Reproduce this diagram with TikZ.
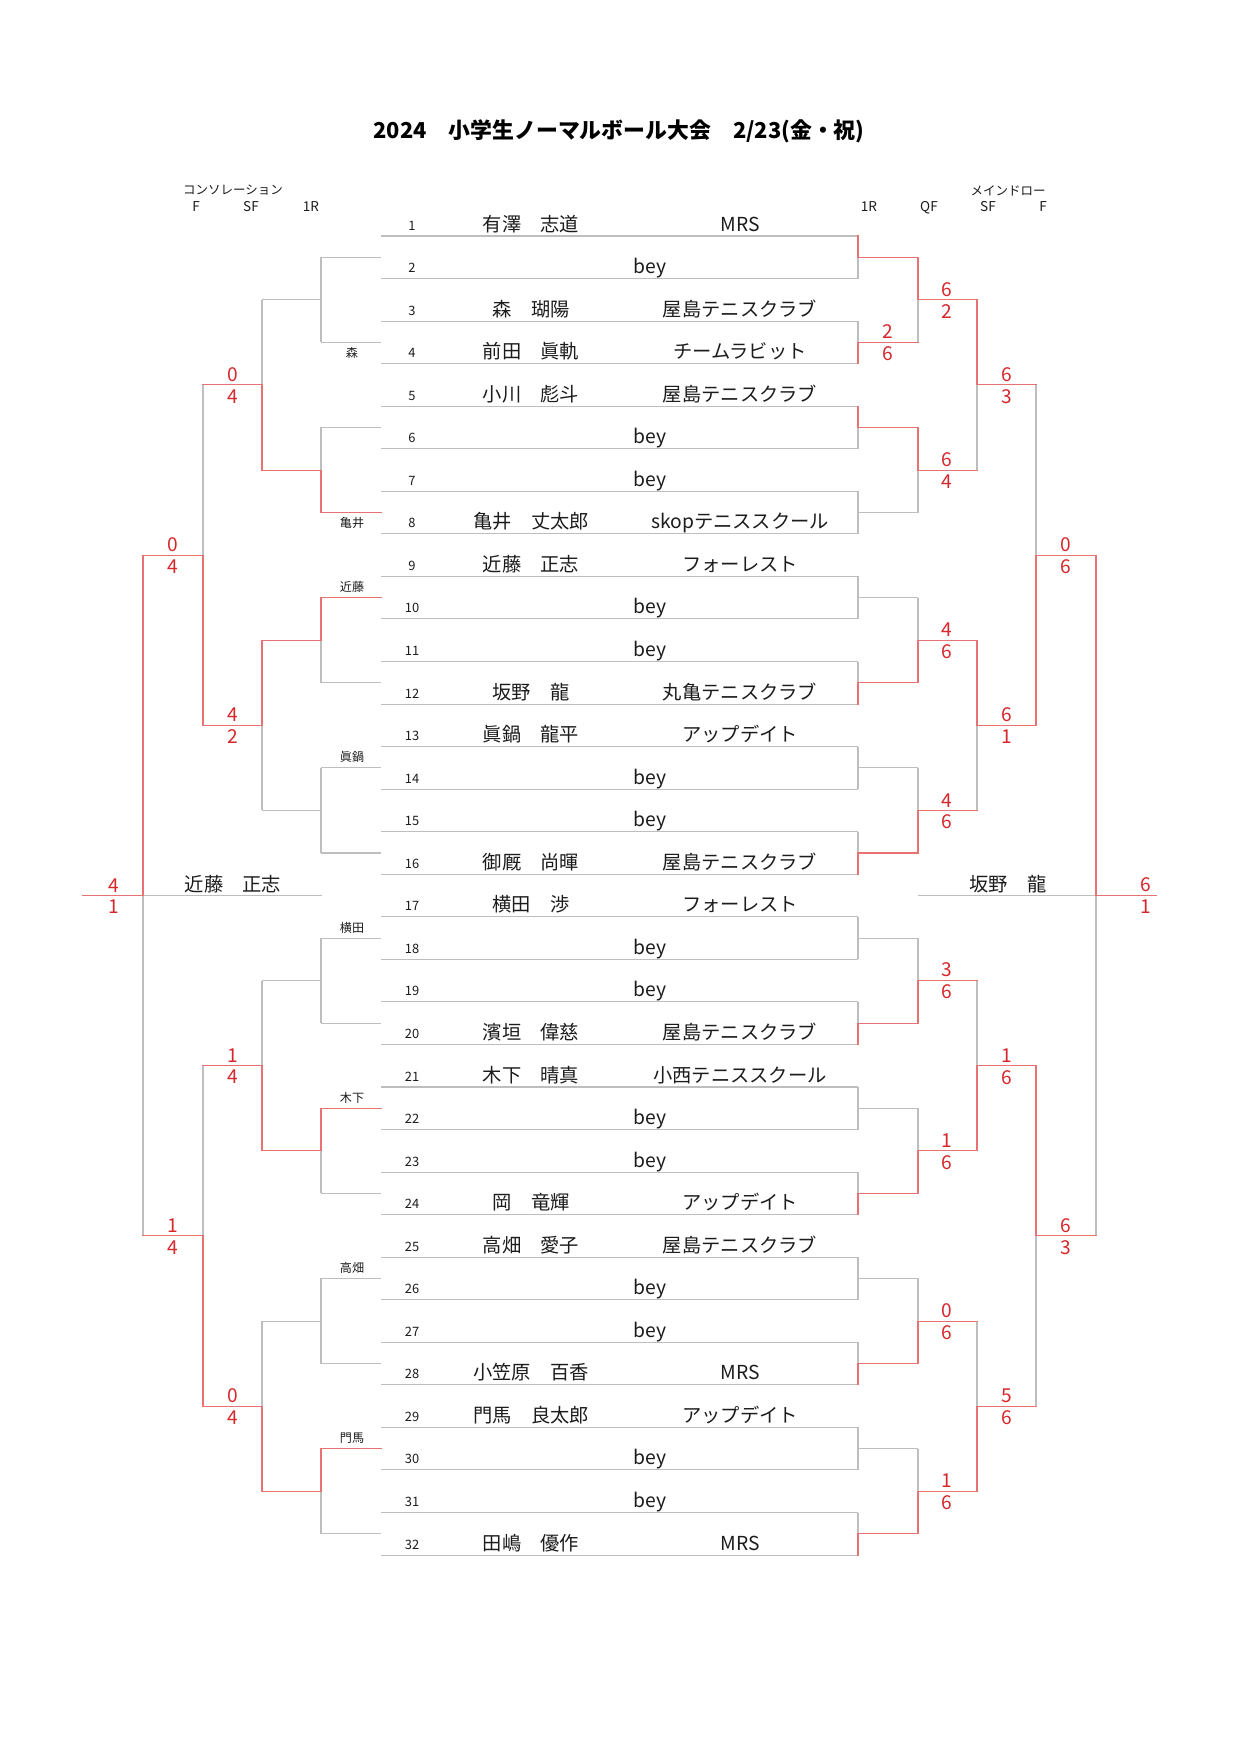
\documentclass[tikz,border=0pt]{standalone}
\usepackage{fontspec}
\setmainfont{Noto Sans CJK JP}
\definecolor{lg}{RGB}{190,190,190}
\definecolor{lr}{RGB}{232,114,114}
\definecolor{sr}{RGB}{214,40,44}
\definecolor{tx}{RGB}{28,28,28}
\newcommand\fsz[1]{\fontsize{#1}{#1}\selectfont}
\pgfmathdeclarefunction{yL}{1}{\pgfmathparse{236+(#1-1)*42.55}}
\pgfmathdeclarefunction{yA}{1}{\pgfmathparse{236+(2*#1-1.5)*42.55}}
\pgfmathdeclarefunction{yB}{1}{\pgfmathparse{236+(4*#1-2.5)*42.55}}
\pgfmathdeclarefunction{yC}{1}{\pgfmathparse{236+(8*#1-4.5)*42.55}}
\pgfmathdeclarefunction{yD}{1}{\pgfmathparse{236+(16*#1-8.5)*42.55}}
\newcommand\vseg[4]{\draw[#1] (#2,{#3}) -- (#2,{#4});}
\newcommand\hseg[4]{\draw[#1] (#2,{#4}) -- (#3,{#4});}
\begin{document}
\begin{tikzpicture}[x=0.48pt,y=-0.48pt,
  gl/.style={draw=lg,line width=0.5pt},
  rl/.style={draw=lr,line width=0.5pt,line cap=rect},
  num/.style={anchor=base,font=\fsz{6.2},text=tx,inner sep=0pt},
  nm/.style={anchor=base,font=\fsz{9.25},text=tx,inner sep=0pt},
  sct/.style={anchor=south,font=\fsz{9.2},text=sr,inner sep=0pt},
  scb/.style={anchor=north,font=\fsz{9.2},text=sr,inner sep=0pt},
  lbl/.style={font=\fsz{5.8},text=tx,inner sep=0pt},
  hdr/.style={anchor=base,font=\fsz{6.5},text=tx,inner sep=0pt},
  hdrj/.style={font=\fsz{6},text=tx,inner sep=0pt}]
\useasboundingbox (0,0) rectangle (1241,1755);
\fill[white] (0,0) rectangle (1241,1755);
\pgfmathsetmacro\yE{236+15.5*42.55}
% ---------------- title and headers
\node[anchor=base,font=\fsz{10.5}\bfseries,text=black,inner sep=0pt] (title) at (619,138) {2024　小学生ノーマルボール大会　2/23(金・祝)};
\node[hdrj] (hcons) at (233,190.5) {コンソレーション};
\node[hdr] (hlF) at (196,211) {F};
\node[hdr] (hlSF) at (251,211) {SF};
\node[hdr] (hl1R) at (311,211) {1R};
\node[hdrj] (hmain) at (1008,190.5) {メインドロー};
\node[hdr] (hr1R) at (869,211.5) {1R};
\node[hdr] (hrQF) at (929,211.5) {QF};
\node[hdr] (hrSF) at (988,211.5) {SF};
\node[hdr] (hrF) at (1043,211.5) {F};
% ---------------- gray base lines
\foreach \k in {1,...,32}{\hseg{gl}{381}{858}{yL(\k)}}
\foreach \m in {1,...,16}{
  \vseg{gl}{858}{yL(2*\m-1)}{yL(2*\m)}
  \hseg{gl}{858}{918}{yA(\m)}
  \hseg{gl}{321}{381}{yA(\m)}}
\foreach \j in {1,...,8}{
  \vseg{gl}{918}{yA(2*\j-1)}{yA(2*\j)}
  \hseg{gl}{918}{977}{yB(\j)}
  \vseg{gl}{321}{yA(2*\j-1)}{yA(2*\j)}
  \hseg{gl}{262}{321}{yB(\j)}}
\foreach \i in {1,...,4}{
  \vseg{gl}{977}{yB(2*\i-1)}{yB(2*\i)}
  \hseg{gl}{977}{1036}{yC(\i)}
  \vseg{gl}{262}{yB(2*\i-1)}{yB(2*\i)}
  \hseg{gl}{203}{262}{yC(\i)}}
\foreach \h in {1,2}{
  \vseg{gl}{1036}{yC(2*\h-1)}{yC(2*\h)}
  \hseg{gl}{1036}{1096}{yD(\h)}
  \vseg{gl}{203}{yC(2*\h-1)}{yC(2*\h)}
  \hseg{gl}{143}{203}{yD(\h)}}
\vseg{gl}{1096}{yD(1)}{yD(2)}
\vseg{gl}{143}{yD(1)}{yD(2)}
\hseg{gl}{918}{1156}{\yE}
\hseg{gl}{83}{322}{\yE}
% ---------------- red winner paths, main draw
\foreach \m in {1,3}{\vseg{rl}{858}{yL(2*\m-1)}{yA(\m)}}
\foreach \m in {2,6,8,10,12,14,16}{\vseg{rl}{858}{yA(\m)}{yL(2*\m)}}
\foreach \m in {1,2,3,6,8,10,12,14,16}{\hseg{rl}{858}{918}{yA(\m)}}
\foreach \j in {1,2}{\vseg{rl}{918}{yA(2*\j-1)}{yB(\j)}}
\foreach \j in {3,...,8}{\vseg{rl}{918}{yB(\j)}{yA(2*\j)}}
\foreach \j in {1,...,8}{\hseg{rl}{918}{977}{yB(\j)}}
\foreach \i in {1,2}{\vseg{rl}{977}{yB(2*\i-1)}{yC(\i)}}
\foreach \i in {3,4}{\vseg{rl}{977}{yC(\i)}{yB(2*\i)}}
\foreach \i in {1,...,4}{\hseg{rl}{977}{1036}{yC(\i)}}
\vseg{rl}{1036}{yD(1)}{yC(2)}
\vseg{rl}{1036}{yC(3)}{yD(2)}
\foreach \h in {1,2}{\hseg{rl}{1036}{1096}{yD(\h)}}
\vseg{rl}{1096}{yD(1)}{\yE}
\hseg{rl}{1096}{1156}{\yE}
% ---------------- red winner paths, consolation
\foreach \m in {4,5,11,15}{\hseg{rl}{321}{381}{yA(\m)}}
\vseg{rl}{321}{yB(2)}{yA(4)}
\foreach \i in {3,6,8}{\vseg{rl}{321}{yA(2*\i-1)}{yB(\i)}}
\foreach \i in {2,3,6,8}{\hseg{rl}{262}{321}{yB(\i)}}
\vseg{rl}{262}{yB(3)}{yC(2)}
\foreach \k in {1,3,4}{\vseg{rl}{262}{yC(\k)}{yB(2*\k)}}
\foreach \k in {1,...,4}{\hseg{rl}{203}{262}{yC(\k)}}
\foreach \h in {1,2}{\vseg{rl}{203}{yD(\h)}{yC(2*\h)}}
\foreach \h in {1,2}{\hseg{rl}{143}{203}{yD(\h)}}
\vseg{rl}{143}{yD(1)}{\yE}
\hseg{rl}{83}{143}{\yE}
% ---------------- row texts
\foreach \k in {1,...,32}{\node[num] (no\k) at (412,{yL(\k)-6}) {\k};}
\foreach \k/\n/\c in {1/有澤　志道/MRS,3/森　瑚陽/屋島テニスクラブ,4/前田　眞軌/チームラビット,
  5/小川　彪斗/屋島テニスクラブ,8/亀井　丈太郎/skopテニススクール,9/近藤　正志/フォーレスト,
  12/坂野　龍/丸亀テニスクラブ,13/眞鍋　龍平/アップデイト,16/御厩　尚暉/屋島テニスクラブ,
  17/横田　渉/フォーレスト,20/濱垣　偉慈/屋島テニスクラブ,21/木下　晴真/小西テニススクール,
  24/岡　竜輝/アップデイト,25/高畑　愛子/屋島テニスクラブ,28/小笠原　百香/MRS,
  29/門馬　良太郎/アップデイト,32/田嶋　優作/MRS}{
  \node[nm] (name\k) at (531,{yL(\k)-5}) {\n};
  \node[nm] (club\k) at (740,{yL(\k)-5}) {\c};}
\foreach \k in {2,6,7,10,11,14,15,18,19,22,23,26,27,30,31}{
  \node[nm] (bey\k) at (650,{yL(\k)-5}) {bey};}
% ---------------- consolation labels
\node[lbl] (cl2) at (352,{yA(2)+10.5}) {森};
\node[lbl] (cl4) at (352,{yA(4)+10.5}) {亀井};
\foreach \m/\n in {5/近藤,7/眞鍋,9/横田,11/木下,13/高畑,15/門馬}{
  \node[lbl] (cl\m) at (352,{yA(\m)-10.5}) {\n};}
% ---------------- champions
\node[nm] (champL) at (233,{\yE-4.5}) {近藤　正志};
\node[nm] (champR) at (1008,{\yE-4.5}) {坂野　龍};
% ---------------- scores, main draw
\node[sct] at (888,{yA(2)-3}) {2}; \node[scb] at (888,{yA(2)+4}) {6};
\foreach \j/\a/\b in {1/6/2,2/6/4,3/4/6,4/4/6,5/3/6,6/1/6,7/0/6,8/1/6}{
  \node[sct] (sBt\j) at (947,{yB(\j)-3}) {\a};
  \node[scb] (sBb\j) at (947,{yB(\j)+4}) {\b};}
\foreach \i/\a/\b in {1/6/3,2/6/1,3/1/6,4/5/6}{
  \node[sct] (sCt\i) at (1007,{yC(\i)-3}) {\a};
  \node[scb] (sCb\i) at (1007,{yC(\i)+4}) {\b};}
\foreach \h/\a/\b in {1/0/6,2/6/3}{
  \node[sct] (sDt\h) at (1066,{yD(\h)-3}) {\a};
  \node[scb] (sDb\h) at (1066,{yD(\h)+4}) {\b};}
\node[sct] (sEt) at (1146,{\yE-3}) {6}; \node[scb] (sEb) at (1146,{\yE+4}) {1};
% ---------------- scores, consolation
\foreach \k/\a/\b in {1/0/4,2/4/2,3/1/4,4/0/4}{
  \node[sct] (cCt\k) at (233,{yC(\k)-3}) {\a};
  \node[scb] (cCb\k) at (233,{yC(\k)+4}) {\b};}
\foreach \h/\a/\b in {1/0/4,2/1/4}{
  \node[sct] (cDt\h) at (173,{yD(\h)-3}) {\a};
  \node[scb] (cDb\h) at (173,{yD(\h)+4}) {\b};}
\node[sct] (cEt) at (114,{\yE-3}) {4}; \node[scb] (cEb) at (114,{\yE+4}) {1};
\end{tikzpicture}
\end{document}
